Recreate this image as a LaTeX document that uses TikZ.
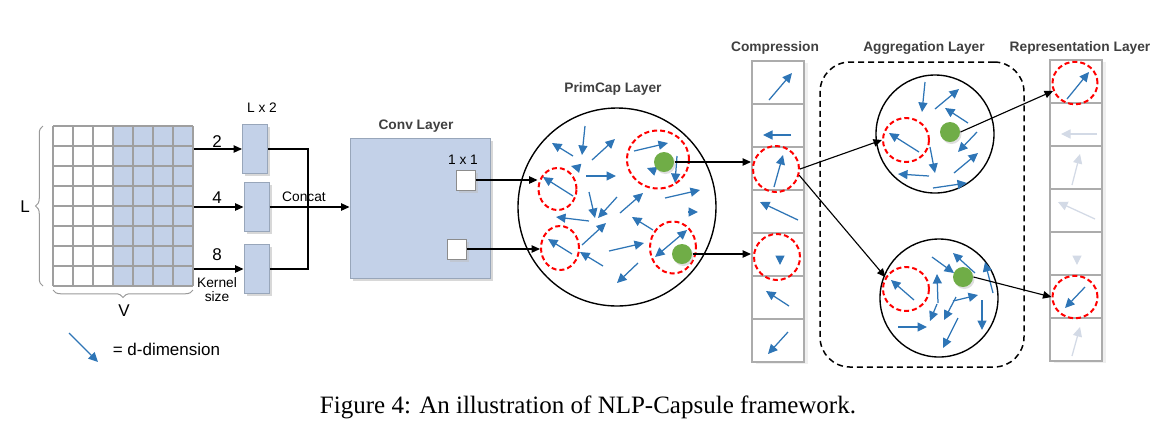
\documentclass[tikz,border=0pt]{standalone}
\usepackage{fontspec}
\setmainfont{Liberation Serif}
\setsansfont{Liberation Sans}
\usetikzlibrary{arrows.meta,shapes.geometric,shadows,decorations.pathreplacing}

\definecolor{capblue}{HTML}{2E75B6}
\definecolor{capfaint}{HTML}{D3DAE6}
\definecolor{boxfill}{HTML}{C3D1E8}
\definecolor{boxline}{HTML}{98A6BA}
\definecolor{dotgreen}{HTML}{70AD47}
\definecolor{labelgray}{HTML}{404040}

\begin{document}
\begin{tikzpicture}[
    x=0.4pt, y=-0.4pt,
    >={Triangle[length=3.4pt, width=3pt]},
    title/.style={font=\sffamily\bfseries\fontsize{5.5}{6.6}\selectfont, text=labelgray},
    lbl/.style={font=\sffamily\fontsize{5.5}{5.6}\selectfont},
    big/.style={font=\sffamily\fontsize{6.8}{8}\selectfont},
    grid line/.style={draw=gray!75, line width=0.45pt},
    filt/.style={draw=boxline, fill=boxfill, inner sep=0pt, minimum width=10pt, minimum height=19.4pt, drop shadow={shadow xshift=1pt, shadow yshift=-1pt, fill=black!30}},
    pix/.style={draw=gray!90, fill=white, inner sep=0pt, minimum width=7.6pt, minimum height=8pt, drop shadow={shadow xshift=1pt, shadow yshift=-1pt, fill=black!25}},
    capsule/.style={draw, circle, line width=0.55pt, inner sep=0pt},
    ring/.style={draw=red, ellipse, line width=0.8pt, dash pattern=on 2pt off 1.2pt, inner sep=0pt},
    dot/.style={circle, fill=dotgreen, inner sep=0pt, minimum size=8pt, drop shadow={shadow xshift=0.6pt, shadow yshift=-0.8pt, fill=black!25}},
    cell/.style={draw=gray!65, line width=0.8pt, fill=white, inner sep=0pt, minimum width=20.8pt, minimum height=17.2pt, drop shadow={shadow xshift=1.6pt, shadow yshift=-0.8pt, fill=black!12}},
    vec/.style={draw=capblue, line width=0.5pt, -{Triangle[length=3.8pt, width=3.6pt]}},
    faint/.style={vec, draw=capfaint},
    link/.style={draw=black, line width=0.45pt, ->}
    ]

    \useasboundingbox (0,0) rectangle (1175,429);

    % Word embedding matrix
    \node[inner sep=0pt, minimum width=56pt, minimum height=64pt] (emb) at (123,206) {};
    \fill[boxfill] (113,126) rectangle (193,286);
    \foreach \c in {0,...,7}
        \draw[grid line] (53+20*\c,126) -- (53+20*\c,286);
    \foreach \r in {0,...,8}
        \draw[grid line] (53,126+20*\r) -- (193,126+20*\r);
    \draw[gray!80, line width=0.4pt, decorate, decoration={brace, amplitude=3pt}] (43,286) -- (43,126);
    \draw[gray!80, line width=0.4pt, decorate, decoration={brace, amplitude=3pt, mirror}] (53,290) -- (193,290);
    \node[big] (lL) at (25,207) {L};
    \node[big] (lV) at (124,311) {V};

    % Kernels
    \node[filt] (f1) at (255,149) {};
    \node[filt] (f2) at (256.5,207) {};
    \node[filt] (f3) at (256.5,269) {};
    \node[lbl] (lk) at (262,108) {L x 2};
    \node[big] at (217,142) {2};
    \node[big] at (217,198) {4};
    \node[big] at (217,255) {8};
    \node[lbl, align=center] at (217,290) {Kernel\\size};
    \foreach \f in {f1,f2,f3}
        \draw[link] (emb.east |- \f) -- (\f.west);

    % Concat
    \coordinate (cat) at (308,208);
    \draw[line width=0.45pt] (f1.east) -| (cat) |- (f3.east);
    \node[lbl] at (304,197) {Concat};

    % Conv layer
    \node[draw=boxline, fill=boxfill, inner sep=0pt, minimum size=56pt, drop shadow={shadow xshift=1.2pt, shadow yshift=-1.2pt, fill=black!30}] (conv) at (420,208) {};
    \node[title] at (416,126) {Conv Layer};
    \node[pix] (p1) at (465.5,180) {};
    \node[pix] (p2) at (457,249) {};
    \node[lbl] at (463,160) {1 x 1};
    \draw[link] (f2.east) -- (f2.east -| conv.west);

    % PrimCap layer
    \node[capsule, minimum size=79.2pt] (prim) at (617,207) {};
    \node[title] at (613,89) {PrimCap Layer};
    \foreach \xa/\ya/\xb/\yb in {585/126/582/155, 573/156/552/143, 592/160/615/139, 634/151/668/143,
        677/156/675/183, 655/171/647/168, 579/168/571/166, 586/176/616/176, 573/196/543/177,
        665/198/700/190, 688/212/698/212, 589/192/595/218, 617/197/598/218, 620/213/643/193,
        589/221/556/217, 653/230/632/217, 572/254/548/239, 582/245/606/223, 603/266/580/252,
        609/251/644/243, 638/263/617/283}
        \draw[vec] (\xa,\ya) -- (\xb,\yb);
    \draw[vec, {Triangle[length=3.8pt, width=3.6pt]}-{Triangle[length=3.8pt, width=3.6pt]}] (655,257) -- (687,230);
    \node[ring, minimum width=15.2pt, minimum height=16.8pt] (r1) at (557.5,189) {};
    \node[ring, minimum width=15.2pt, minimum height=17.6pt] (r2) at (560,248) {};
    \node[ring, minimum width=24.8pt, minimum height=23.2pt] (r3) at (658,159.5) {};
    \node[ring, minimum width=18.4pt, minimum height=20.8pt] (r4) at (673,247.5) {};
    \node[dot] (g1) at (664,162) {};
    \node[dot] (g2) at (682,254) {};

    % Compression
    \foreach \i in {1,...,7}
        \node[cell] (cmp\i) at (778,39.5+43*\i) {};
    \node[title] at (775,48) {Compression};
    \foreach \xa/\ya/\xb/\yb in {769/100/792/73, 791/135/763/135, 774/187/783/155, 798/220/760/202,
        780/258/780/265, 789/306/766/291, 788/332/768/354}
        \draw[vec] (\xa,\ya) -- (\xb,\yb);
    \node[ring, minimum size=18.4pt] (cr3) at (776,169) {};
    \node[ring, minimum size=18.4pt] (cr5) at (777,257) {};

    % Aggregation layer
    \node[draw, line width=0.6pt, dash pattern=on 2.4pt off 1.6pt, rounded corners=12pt, minimum width=81.6pt, minimum height=122pt] (agg) at (922,214.5) {};
    \node[title] at (924,48) {Aggregation Layer};
    \node[capsule, minimum size=47.2pt] (a1) at (935,134) {};
    \node[capsule, minimum size=47.2pt] (a2) at (939,298) {};
    \foreach \xa/\ya/\xb/\yb in {925/82/922/112, 935/109/959/89, 968/123/945/108, 919/152/889/133,
        977/132/958/152, 930/147/935/173, 929/176/898/174, 954/173/978/153, 933/188/967/183,
        914/300/891/280, 938/303/937/274, 932/257/954/273, 975/273/953/253, 993/293/985/262,
        956/297/944/320, 953/301/978/295, 982/300/982/330, 937/304/930/321, 898/327/927/327,
        958/318/943/348}
        \draw[vec] (\xa,\ya) -- (\xb,\yb);
    \node[ring, minimum width=18.4pt, minimum height=17.6pt] (ar1) at (906,140) {};
    \node[ring, minimum width=18.4pt, minimum height=17.6pt] (ar2) at (906,289) {};
    \node[dot] (ga1) at (950,132) {};
    \node[dot] (ga2) at (963,277) {};

    % Representation layer
    \foreach \i in {1,...,7}
        \node[cell] (rep\i) at (1075.5,38.5+43*\i) {};
    \node[title] at (1080,48) {Representation Layer};
    \foreach \xa/\ya/\xb/\yb in {1097/134/1061/134, 1072/185/1080/154, 1095/219/1058/202,
        1077/258/1077/265, 1072/356/1080/327}
        \draw[faint] (\xa,\ya) -- (\xb,\yb);
    \draw[vec] (1067,99) -- (1089,72);
    \draw[vec] (1085,287) -- (1065,308);
    \node[ring, minimum width=18pt, minimum height=17pt] (rr1) at (1075,83) {};
    \node[ring, minimum width=18pt, minimum height=17pt] (rr6) at (1075,297) {};

    % Connections between layers
    \draw[link] (p1.east) -- (p1.east -| r1.west);
    \draw[link] (p2.east) -- (p2.east -| r2.west);
    \draw[link] (g1.east) -- (g1.east -| cmp3.west);
    \draw[link] (g2.east) -- (g2.east -| cmp5.west);
    \draw[link] (cr3.east) -- (ar1.west);
    \draw[link] (cr3.345) -- (ar2.150);
    \draw[link] (ga1.east) -- (rr1.200);
    \draw[link] (ga2.east) -- (rr6.west);

    % Legend
    \draw[vec] (69,333) -- (98,362);
    \node[big, anchor=west] (leg) at (104,349) {= d-dimension};

    % Caption
    \node[font=\rmfamily\fontsize{10}{12}\selectfont] (cap) at (588,407) {Figure 4: An illustration of NLP-Capsule framework.};

\end{tikzpicture}
\end{document}
